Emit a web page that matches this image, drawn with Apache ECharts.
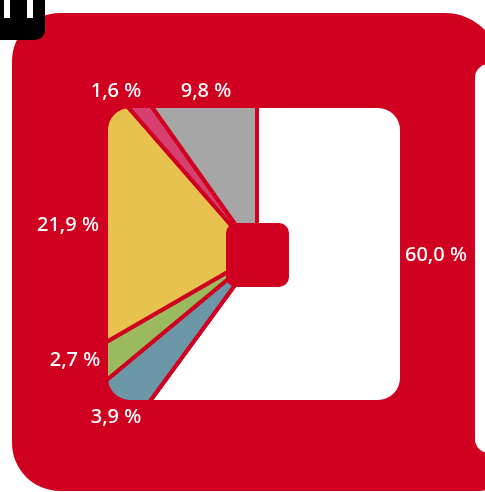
<!DOCTYPE html>
<html>
<head>
<meta charset="utf-8">
<script src="https://cdn.jsdelivr.net/npm/echarts@6/dist/echarts.min.js"></script>
<style>
  html, body { margin: 0; padding: 0; background: #ffffff; }
  #chart { width: 485px; height: 492px; }
</style>
</head>
<body>
<div id="chart"></div>
<script>
// Shares, clockwise from 12 o'clock
const categories = ['A', 'B', 'C', 'D', 'E', 'F'];
const shares = [60.0, 3.9, 2.7, 21.9, 1.6, 9.8];
const sliceColors = ['#ffffff', '#6b97a6', '#9bb95e', '#e8c24e', '#d6406f', '#a6a6a6'];

// Where each percentage label sits inside the red frame
const labelPos = [[436, 255], [116, 417], [75, 360], [68, 225], [116, 91], [206, 91]];

const RED = '#d00020';
const PIE_CENTER = [257, 255];

const pieData = categories.map((name, i) => ({
  name: name,
  value: shares[i],
  itemStyle: { color: sliceColors[i] }
}));

// Red frame: outer rounded shape with a rounded-square window cut out
const framePath =
  'M 60 13 L 445 13 A 55 55 0 0 1 500 68 L 500 471 A 20 20 0 0 1 480 491 ' +
  'L 60 491 A 48 48 0 0 1 12 443 L 12 61 A 48 48 0 0 1 60 13 Z ' +
  'M 130 108 A 22 22 0 0 0 108 130 L 108 378 A 22 22 0 0 0 130 400 ' +
  'L 378 400 A 22 22 0 0 0 400 378 L 400 130 A 22 22 0 0 0 378 108 Z';

const chart = echarts.init(document.getElementById('chart'), null, { renderer: 'canvas' });

chart.setOption({
  animation: false,
  backgroundColor: '#ffffff',
  graphic: [
    // window of the neighbouring panel at the right edge
    { type: 'rect', z: 6, silent: true,
      shape: { x: 475, y: 64, width: 40, height: 389, r: 14 },
      style: { fill: '#ffffff' } },
    // hub of the pie
    { type: 'rect', z: 6, silent: true,
      shape: { x: 226, y: 223, width: 63, height: 64, r: 10 },
      style: { fill: RED } },
    // black tab in the corner
    { type: 'rect', z: 7, silent: true,
      shape: { x: -12, y: -12, width: 57, height: 52, r: [0, 0, 10, 0] },
      style: { fill: '#000000' } },
    { type: 'rect', z: 8, silent: true,
      shape: { x: 4, y: 0, width: 6, height: 18 },
      style: { fill: '#ffffff' } },
    { type: 'rect', z: 8, silent: true,
      shape: { x: 27, y: 0, width: 6, height: 18 },
      style: { fill: '#ffffff' } }
  ],
  series: [
    {
      // coloured slices, seen through the frame window
      type: 'pie',
      z: 1,
      silent: true,
      center: PIE_CENTER,
      radius: [0, 215],
      startAngle: 90,
      clockwise: true,
      avoidLabelOverlap: false,
      label: { show: false },
      labelLine: { show: false },
      emphasis: { disabled: true },
      itemStyle: { borderColor: RED, borderWidth: 4 },
      data: pieData
    },
    {
      // the red frame laid over the pie
      type: 'custom',
      z: 5,
      silent: true,
      coordinateSystem: 'none',
      data: [0],
      renderItem: () => ({
        type: 'path',
        shape: { pathData: framePath },
        style: { fill: RED }
      })
    },
    {
      // percentage labels, drawn above the frame
      type: 'pie',
      z: 10,
      silent: true,
      center: PIE_CENTER,
      radius: [0, 215],
      startAngle: 90,
      clockwise: true,
      avoidLabelOverlap: false,
      emphasis: { disabled: true },
      itemStyle: { color: 'rgba(0,0,0,0)', borderWidth: 0 },
      labelLine: { show: false },
      label: {
        show: true,
        position: 'inside',
        color: '#ffffff',
        fontFamily: 'Noto Sans',
        fontWeight: 500,
        fontSize: 20,
        formatter: p => p.value.toFixed(1).replace('.', ',') + ' %'
      },
      labelLayout: p => ({
        x: labelPos[p.dataIndex][0],
        y: labelPos[p.dataIndex][1],
        align: 'center',
        verticalAlign: 'middle'
      }),
      data: categories.map((name, i) => ({ name: name, value: shares[i] }))
    }
  ]
});
</script>
</body>
</html>
